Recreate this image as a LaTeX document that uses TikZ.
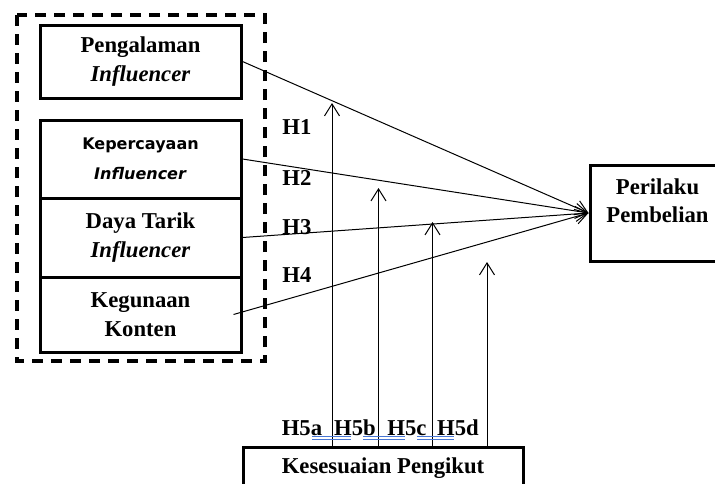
\documentclass[tikz,border=0pt]{standalone}
\usepackage{fontspec}
\setmainfont{Liberation Serif}
\newfontfamily\sansfnt{DejaVu Sans}
\usetikzlibrary{arrows.meta}
\definecolor{markblue}{RGB}{72,118,212}

\tikzset{
  varbox/.style={draw, line width=3pt, minimum width=201pt, align=center, inner sep=0pt,
    font=\fontsize{22.7}{28.5}\selectfont\bfseries},
  hlabel/.style={inner sep=0pt, font=\fontsize{22.7}{28}\selectfont\bfseries},
  rel/.style={line width=1pt},
  markline/.style={markblue, line width=0.8pt}
}

\begin{document}
\begin{tikzpicture}[x=1pt, y=-1pt, >={Straight Barb[length=12pt,width=15pt]}]
  \useasboundingbox (0,0) rectangle (715,483);
  % variabel X
  \draw[dash pattern=on 11pt off 8pt, line width=3.5pt] (17,15) rectangle (265,361);
  \node[varbox, minimum height=73pt] (peng) at (140.5,61.5) {Pengalaman\\\textit{Influencer}};
  \node[varbox, minimum height=78pt, font=\sansfnt\fontsize{16}{30}\selectfont\bfseries] (kep) at (140.5,159) {Kepercayaan\\\textit{Influencer}};
  \node[varbox, minimum height=79pt] (daya) at (140.5,237.5) {Daya Tarik\\\textit{Influencer}};
  \node[varbox, minimum height=75pt] (keg) at (140.5,314.5) {Kegunaan\\Konten};
  % variabel Y dan moderasi
  \node[varbox, minimum width=135pt, minimum height=96pt] (prl) at (657.5,213) {Perilaku\\Pembelian\rule[-25pt]{0pt}{25pt}};
  \node[varbox, minimum width=280pt, minimum height=42pt] (kes) at (383,468) {Kesesuaian Pengikut};

  \draw[rel,->] (peng.east) -- (prl.west);
  \draw[rel,->] (kep.east) -- (prl.west);
  \draw[rel,->] (daya.east) -- (prl.west);
  \draw[rel,->] ([xshift=-9pt]keg.east) -- (prl.west);

  \coordinate (m1) at (332,103);
  \coordinate (m2) at (378.5,188);
  \coordinate (m3) at (432.5,222);
  \coordinate (m4) at (487,262);
  \draw[rel,->] (kes.north -| m1) -- (m1);
  \draw[rel,->] (kes.north -| m2) -- (m2);
  \draw[rel,->] (kes.north -| m3) -- (m3);
  \draw[rel,->] (kes.north -| m4) -- (m4);

  \node[hlabel] (h1) at (297,127) {H1};
  \node[hlabel] (h2) at (297,178) {H2};
  \node[hlabel] (h3) at (297,227) {H3};
  \node[hlabel] (h4) at (297,275) {H4};

  \node[hlabel] (h5a) at (302,428) {H5a};
  \node[hlabel] (h5b) at (355,428) {H5b};
  \node[hlabel] (h5c) at (407,428) {H5c};
  \node[hlabel] (h5d) at (458,428) {H5d};
  \draw[markline] (312,436.5) -- (351,436.5) (312,439.5) -- (351,439.5);
  \draw[markline] (363,436.5) -- (405,436.5) (363,439.5) -- (405,439.5);
  \draw[markline] (417,436.5) -- (454,436.5) (417,439.5) -- (454,439.5);
\end{tikzpicture}
\end{document}
